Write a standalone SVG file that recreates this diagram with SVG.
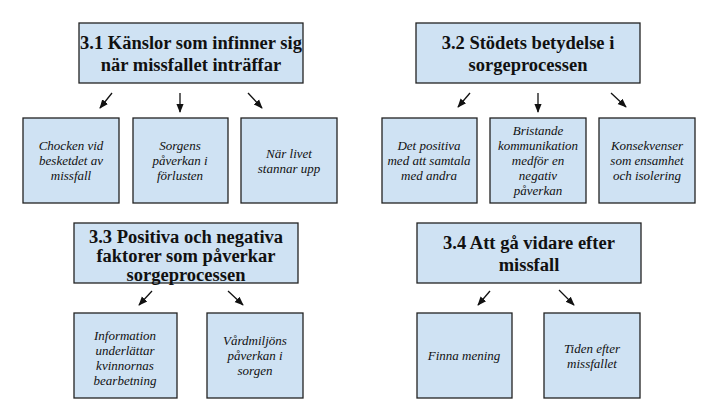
<svg xmlns="http://www.w3.org/2000/svg" width="719" height="406" viewBox="0 0 719 406">
<defs>
<marker id="ah" viewBox="0 0 10 10" refX="9" refY="5" markerWidth="7" markerHeight="7" orient="auto"><path d="M0,1 L10,5 L0,9 z" fill="#111"/></marker>
</defs>
<style>
rect{fill:#cfe2f3;stroke:#222;stroke-width:1.3}
.t{font-family:"Liberation Serif",serif;font-weight:bold;font-size:18.5px;text-anchor:middle;fill:#111}
.c{font-family:"Liberation Serif",serif;font-style:italic;font-size:13px;text-anchor:middle;fill:#111}
.a line{stroke:#111;stroke-width:1.3;marker-end:url(#ah)}
</style>
<rect x="0" y="0" width="719" height="406" style="fill:#fff;stroke:none"/>
<g id="n31"><rect x="79" y="23" width="224" height="60"/><text class="t" x="191" y="49">3.1 Känslor som infinner sig</text><text class="t" x="191" y="71">när missfallet inträffar</text></g>
<g id="n31a"><rect x="23" y="118" width="96" height="85"/><text class="c" x="71" y="150">Chocken vid</text><text class="c" x="71" y="165">besketdet av</text><text class="c" x="71" y="180">missfall</text></g>
<g id="n31b"><rect x="133" y="118" width="95" height="85"/><text class="c" x="180" y="150">Sorgens</text><text class="c" x="180" y="165">påverkan i</text><text class="c" x="180" y="180">förlusten</text></g>
<g id="n31c"><rect x="241" y="118" width="96" height="85"/><text class="c" x="289" y="158">När livet</text><text class="c" x="289" y="173">stannar upp</text></g>
<g id="n32"><rect x="416" y="23" width="224" height="60"/><text class="t" x="528" y="49">3.2 Stödets betydelse i</text><text class="t" x="528" y="71">sorgeprocessen</text></g>
<g id="n32a"><rect x="382" y="118" width="95" height="85"/><text class="c" x="429" y="150">Det positiva</text><text class="c" x="429" y="165">med att samtala</text><text class="c" x="429" y="180">med andra</text></g>
<g id="n32b"><rect x="490" y="118" width="96" height="85"/><text class="c" x="538" y="135">Bristande</text><text class="c" x="538" y="150">kommunikation</text><text class="c" x="538" y="165">medför en</text><text class="c" x="538" y="180">negativ</text><text class="c" x="538" y="195">påverkan</text></g>
<g id="n32c"><rect x="599" y="118" width="96" height="85"/><text class="c" x="647" y="150">Konsekvenser</text><text class="c" x="647" y="165">som ensamhet</text><text class="c" x="647" y="180">och isolering</text></g>
<g id="n33"><rect x="74" y="223" width="224" height="60"/><text class="t" x="186" y="243">3.3 Positiva och negativa</text><text class="t" x="186" y="262">faktorer som påverkar</text><text class="t" x="186" y="281">sorgeprocessen</text></g>
<g id="n33a"><rect x="74" y="313" width="103" height="85"/><text class="c" x="125" y="340">Information</text><text class="c" x="125" y="355">underlättar</text><text class="c" x="125" y="370">kvinnornas</text><text class="c" x="125" y="385">bearbetning</text></g>
<g id="n33b"><rect x="207" y="313" width="96" height="85"/><text class="c" x="255" y="345">Vårdmiljöns</text><text class="c" x="255" y="360">påverkan i</text><text class="c" x="255" y="375">sorgen</text></g>
<g id="n34"><rect x="417" y="223" width="224" height="60"/><text class="t" x="529" y="249">3.4 Att gå vidare efter</text><text class="t" x="529" y="271">missfall</text></g>
<g id="n34a"><rect x="417" y="313" width="95" height="85"/><text class="c" x="464" y="360">Finna mening</text></g>
<g id="n34b"><rect x="544" y="313" width="96" height="85"/><text class="c" x="592" y="353">Tiden efter</text><text class="c" x="592" y="368">missfallet</text></g>
<g id="connectors" class="a">
<line x1="112" y1="93" x2="100" y2="108"/><line x1="180" y1="93" x2="180" y2="112"/><line x1="248" y1="93" x2="262" y2="108"/>
<line x1="470" y1="93" x2="458" y2="107"/><line x1="538" y1="93" x2="538" y2="112"/><line x1="611" y1="93" x2="626" y2="107"/>
<line x1="152" y1="291" x2="139" y2="305"/><line x1="228" y1="291" x2="243" y2="305"/>
<line x1="490" y1="291" x2="478" y2="305"/><line x1="559" y1="290" x2="574" y2="305"/>
</g>
</svg>
